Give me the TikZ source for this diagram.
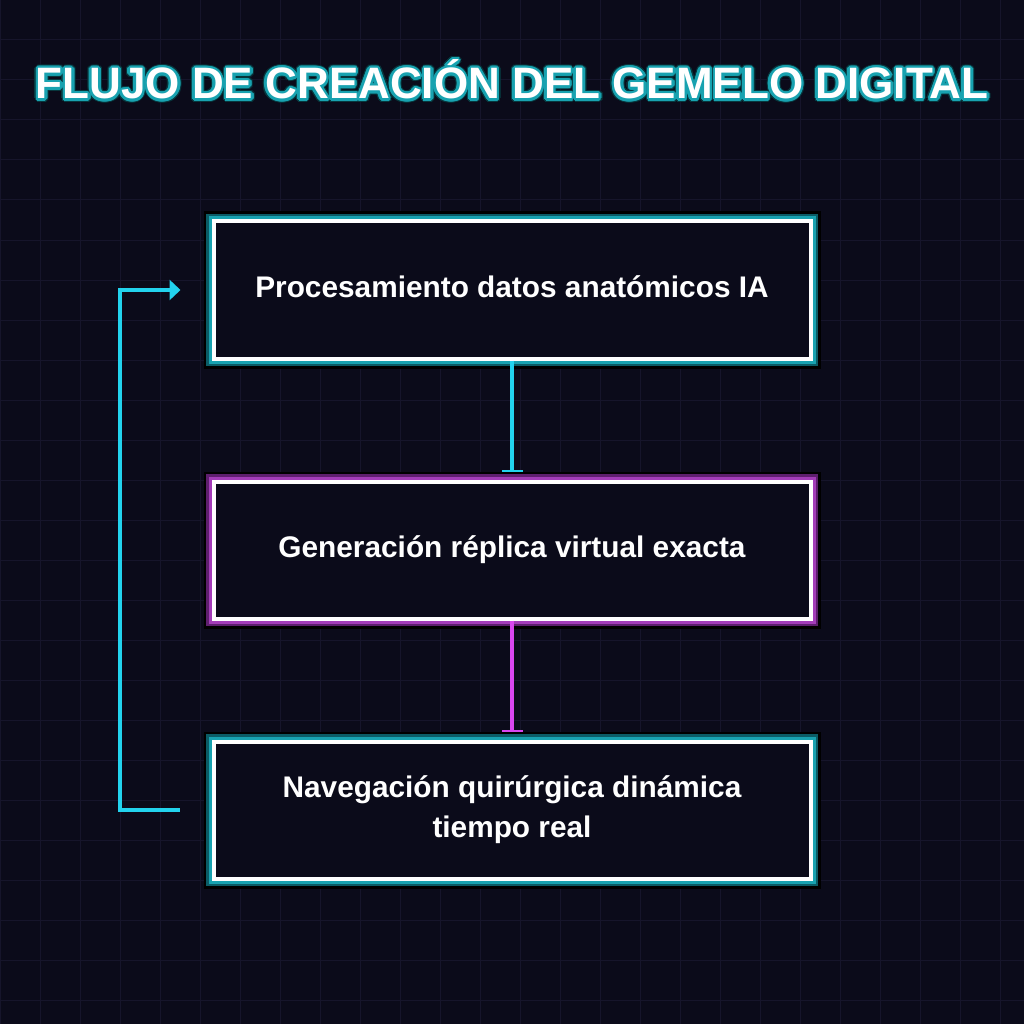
\documentclass[tikz,border=0pt]{standalone}
\usepackage{fontspec}
\setmainfont{Liberation Sans}
\usetikzlibrary{positioning, arrows.meta}

\definecolor{bgdark}{HTML}{0B0B1A}
\definecolor{gridcol}{HTML}{16152B}
\definecolor{cyanline}{HTML}{22D3EE}
\definecolor{magline}{HTML}{D946EF}
\definecolor{teallight}{HTML}{18A2B0}
\definecolor{tealdark}{HTML}{0B5C66}
\definecolor{purplelight}{HTML}{A33CB8}
\definecolor{purpledark}{HTML}{5E1F6E}

\newcommand{\titletext}{FLUJO DE CREACIÓN DEL GEMELO DIGITAL}

\begin{document}
\begin{tikzpicture}[
        x=1pt, y=-1pt,
        box/.style={draw=white, line width=4pt, fill=bgdark, rectangle, align=center, text=white,
            minimum width=597pt, minimum height=137pt, inner sep=0pt,
            font=\bfseries\fontsize{29.8}{40}\selectfont, text height=22pt, text depth=8pt},
        tealglow/.style={preaction={draw=black, line width=20pt},
            preaction={draw=tealdark, line width=15pt}, preaction={draw=teallight, line width=10pt}},
        purpleglow/.style={preaction={draw=black, line width=20pt},
            preaction={draw=purpledark, line width=15pt}, preaction={draw=purplelight, line width=10pt}},
        downarrow/.style={line width=4pt, shorten >=7.7pt, -{Bar[width=21pt, line width=2pt]}},
        backarrow/.style={draw=cyanline, line width=4pt, -{Triangle[length=11pt, width=20pt]}},
        titlefont/.style={font=\bfseries\fontsize{44}{50}\selectfont, anchor=base, inner sep=0pt}
    ]
    \useasboundingbox (0,0) rectangle (1024,1024);
    \fill[bgdark] (0,0) rectangle (1024,1024);
    \foreach \g in {0,40,...,1000} {
        \draw[gridcol, line width=1pt] (\g,0) -- (\g,1024);
        \draw[gridcol, line width=1pt] (0,\g) -- (1024,\g);
    }

    % title with glow
    \foreach \a [count=\i] in {0,22.5,...,337.5} {
        \node[titlefont, text=tealdark!60!black] (titleedge\i) at (512,99) [shift={(\a:3.8)}] {\titletext};
    }
    \foreach \a [count=\i] in {0,22.5,...,337.5} {
        \node[titlefont, text=teallight] (titleglow\i) at (512,99) [shift={(\a:2.6)}] {\titletext};
    }
    \node[titlefont, text=white] (title) at (512,99) {\titletext};

    \node[box, tealglow] (proc) at (512,290) {Procesamiento datos anatómicos IA};
    \node[box, purpleglow, below=119pt of proc] (gen) {Generación réplica virtual exacta};
    \node[box, tealglow, below=119pt of gen, text height=, text depth=] (nav) {Navegación quirúrgica dinámica\\tiempo real};

    \draw[downarrow, cyanline] (proc) -- (gen);
    \draw[downarrow, magline] (gen) -- (nav);

    \coordinate (loopstart) at ([xshift=-32pt]nav.west);
    \coordinate (loopend) at ([xshift=-31pt]proc.west);
    \draw[backarrow] (loopstart) -- ++(-60,0) |- (loopend);
\end{tikzpicture}
\end{document}
